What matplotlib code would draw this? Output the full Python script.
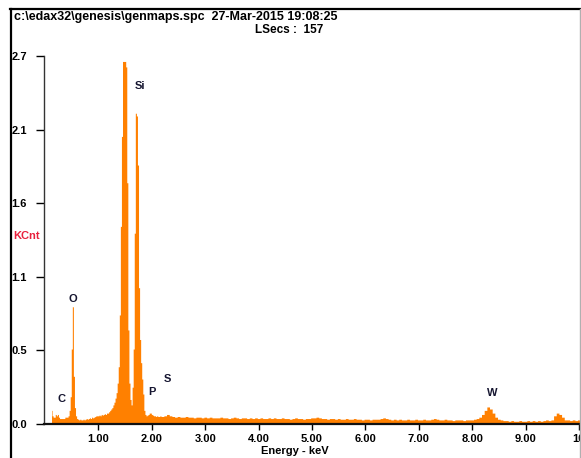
import numpy as np
import matplotlib
matplotlib.use("Agg")
import matplotlib.pyplot as plt
from matplotlib.lines import Line2D

# ---------------- data ----------------
# low-energy region, 0.12 .. 0.98 keV, step 0.02 keV (C and O lines)
e_low = np.round(np.arange(0.12, 0.981, 0.02), 3)
c_low = [0.10, 0.06, 0.05, 0.05, 0.07, 0.06, 0.07, 0.05, 0.04, 0.04,
         0.04, 0.04, 0.04, 0.05, 0.05, 0.05, 0.06, 0.10, 0.20, 0.55,
         0.86, 0.35, 0.12, 0.06, 0.04, 0.035, 0.03, 0.035, 0.03, 0.03,
         0.035, 0.03, 0.035, 0.04, 0.035, 0.04, 0.045, 0.04, 0.05, 0.045,
         0.05, 0.055, 0.06, 0.06]

# mid region, 1.00 .. 2.20 keV, step 0.02 keV (Al, Si, P lines)
e_mid = np.round(np.arange(1.00, 2.201, 0.02), 3)
c_mid = [0.06, 0.065, 0.06, 0.07, 0.065, 0.07, 0.075, 0.07, 0.08, 0.08,
         0.09, 0.10, 0.11, 0.12, 0.14, 0.16, 0.19, 0.23, 0.30, 0.42,
         0.80, 1.45, 2.11, 2.66, 2.66, 2.66, 2.62, 1.77, 0.69, 0.30,
         0.18, 0.14, 0.27, 0.55, 1.40, 2.28, 2.26, 1.90, 1.00, 0.62,
         0.45, 0.33, 0.22, 0.10, 0.07, 0.06, 0.065, 0.07, 0.08, 0.08,
         0.07, 0.065, 0.06, 0.06, 0.055, 0.06, 0.055, 0.055, 0.06, 0.055,
         0.055]

# high region, 2.25 .. 10.05 keV, step 0.05 keV (S, W lines, background)
e_high = np.round(np.arange(2.25, 10.051, 0.05), 3)
c_high = [0.06, 0.07, 0.06, 0.055, 0.05, 0.055, 0.05, 0.05, 0.055, 0.05,
          0.05, 0.045, 0.05, 0.05, 0.045, 0.05, 0.045, 0.05, 0.045, 0.045,
          0.045, 0.05, 0.045, 0.045, 0.04, 0.045, 0.05, 0.045, 0.04, 0.045,
          0.045, 0.04, 0.045, 0.04, 0.045, 0.04, 0.045, 0.04, 0.04, 0.045,
          0.04, 0.045, 0.04, 0.04, 0.045, 0.04, 0.04, 0.035, 0.04, 0.045,
          0.04, 0.04, 0.035, 0.04, 0.04, 0.045, 0.045, 0.05, 0.045, 0.04,
          0.04, 0.035, 0.04, 0.04, 0.035, 0.04, 0.035, 0.035, 0.04, 0.035,
          0.035, 0.04, 0.035, 0.035, 0.03, 0.035, 0.035, 0.03, 0.035, 0.035,
          0.035, 0.04, 0.045, 0.04, 0.035, 0.03, 0.035, 0.03, 0.035, 0.03,
          0.03, 0.035, 0.03, 0.03, 0.035, 0.03, 0.03, 0.035, 0.03, 0.03,
          0.035, 0.04, 0.035, 0.03, 0.03, 0.035, 0.03, 0.03, 0.025, 0.03,
          0.03, 0.03, 0.025, 0.03, 0.03, 0.03, 0.035, 0.04, 0.05, 0.07,
          0.10, 0.125, 0.11, 0.08, 0.05, 0.035, 0.03, 0.025, 0.025, 0.02,
          0.025, 0.02, 0.02, 0.025, 0.02, 0.02, 0.025, 0.02, 0.025, 0.02,
          0.025, 0.02, 0.025, 0.03, 0.025, 0.03, 0.06, 0.08, 0.07, 0.05,
          0.03, 0.03, 0.025, 0.03, 0.025, 0.03, 0.025]

# element labels
elements = ["C", "O", "Si", "P", "S", "W"]
elem_kev = [0.30, 0.52, 1.78, 2.00, 2.30, 8.37]
elem_lbl_y = [0.18, 0.92, 2.48, 0.235, 0.33, 0.227]

# axis ticks
x_ticks = [1, 2, 3, 4, 5, 6, 7, 8, 9, 10]
x_tick_labels = ["1.00", "2.00", "3.00", "4.00", "5.00", "6.00", "7.00", "8.00", "9.00", "10"]
y_ticks = [0.0, 0.54, 1.08, 1.62, 2.16, 2.7]
y_tick_labels = ["0.0", "0.5", "1.1", "1.6", "2.1", "2.7"]

title_text = "c:\\edax32\\genesis\\genmaps.spc  27-Mar-2015 19:08:25"
lsecs_text = "LSecs :  157"

# ---------------- plot ----------------
plt.rcParams['font.family'] = ['Liberation Sans', 'DejaVu Sans']
W, H = 581, 458
fig = plt.figure(figsize=(W / 100, H / 100), dpi=100)
fig.patch.set_facecolor("white")

ax = fig.add_axes([43.5 / W, 34 / H, (580 - 43.5) / W, (424 - 56) / H])
energy = np.concatenate([e_low, e_mid, e_high])
counts = np.concatenate([c_low, c_mid, c_high])
ax.fill_between(energy, counts, 0, step="mid", color="#ff8000", lw=0)

ax.set_xlim(-0.03, 10.02)
ax.set_ylim(0, 2.7)
for s in ["top", "right"]:
    ax.spines[s].set_visible(False)
ax.spines["left"].set_color("#333333")
ax.spines["bottom"].set_color("#111111")
ax.spines["left"].set_linewidth(1.0)
ax.spines["bottom"].set_linewidth(1.6)

ax.set_xticks(x_ticks)
ax.set_xticklabels(x_tick_labels, fontsize=8, fontweight="bold")
ax.set_yticks(y_ticks)
ax.set_yticklabels(y_tick_labels, fontsize=8, fontweight="bold")
ax.tick_params(axis="x", length=4, width=1, pad=3)
ax.tick_params(axis="y", length=6, width=1, pad=6)

for name, xe, ye in zip(elements, elem_kev, elem_lbl_y):
    ax.text(xe, ye, name, ha="center", va="center", fontsize=8,
            fontweight="bold", color="#151530")

fig.text(295 / W, 1 - 451 / H, "Energy - keV", ha="center", va="center",
         fontsize=8, fontweight="bold")
fig.text(13 / W, 1 - 236 / H, "KCnt", ha="left", va="center",
         fontsize=8, fontweight="bold", color="#e8203c")
fig.text(14 / W, 1 - 17 / H, title_text, ha="left", va="center",
         fontsize=9, fontweight="bold")
fig.text(255 / W, 1 - 30 / H, lsecs_text, ha="left", va="center",
         fontsize=8.5, fontweight="bold")

# outer frame
fig.add_artist(Line2D([10 / W, 1.0], [1 - 9 / H, 1 - 9 / H], transform=fig.transFigure,
                      color="black", lw=1.6))
fig.add_artist(Line2D([10.5 / W, 10.5 / W], [0, 1 - 9 / H], transform=fig.transFigure,
                      color="black", lw=1.6))
fig.add_artist(Line2D([580 / W, 580 / W], [0, 1 - 9 / H], transform=fig.transFigure,
                      color="#b0b0b0", lw=1.0))

fig.savefig("out.png", dpi=100)
